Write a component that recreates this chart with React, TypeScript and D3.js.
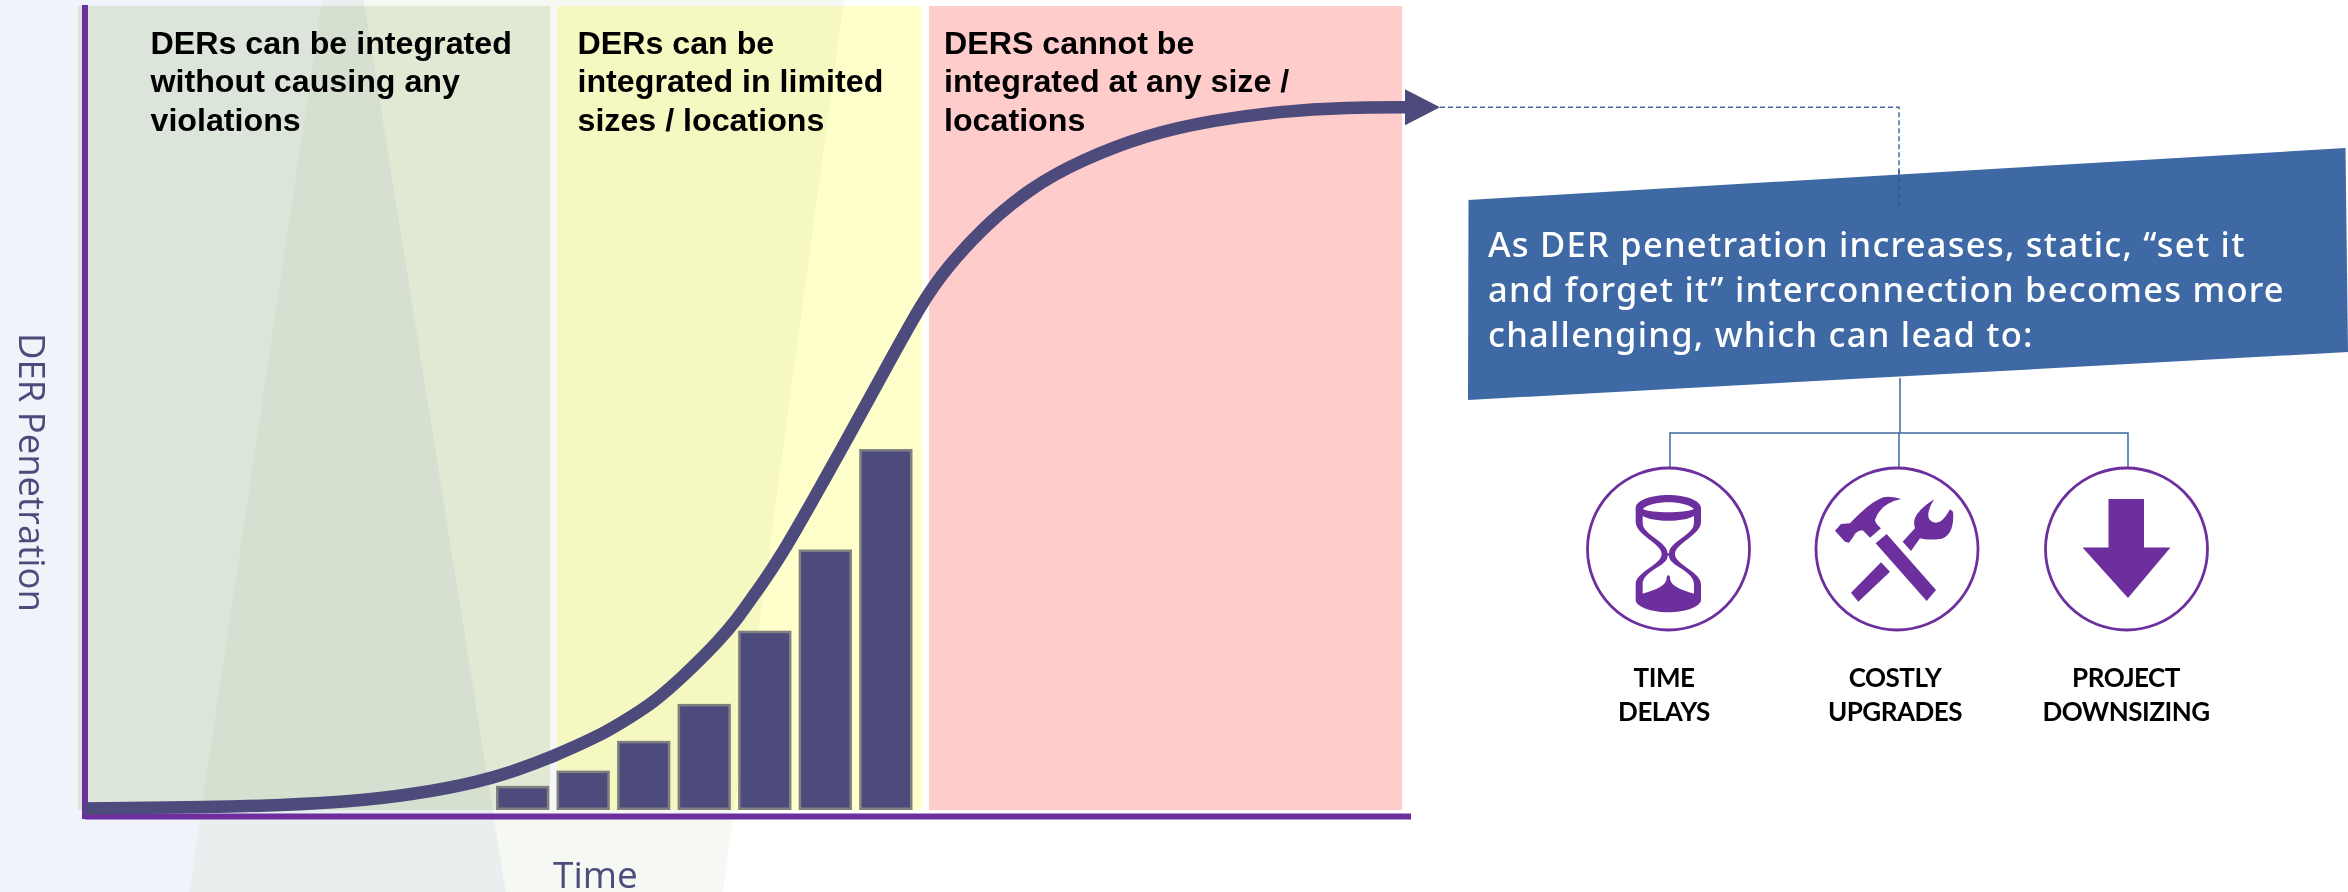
import { FC } from "react";
import * as d3 from "d3";

const width = 2348;
const height = 892;

// curve: time (0-100) against DER penetration (0-100)
const curveTime = [
  0, 9.7, 14.8, 19.8, 24.8, 29.9, 32.9, 35.2, 39, 40.5, 43, 45.5, 48, 49.4,
  50.5, 52.6, 56.2, 57.6, 60.1, 63.5, 65.2, 67.7, 71.5, 75.3, 80.3, 85.3, 90.4,
  95.5, 100,
];
const curvePenetration = [
  0.2, 0.35, 0.6, 1.0, 1.9, 3.5, 5.1, 6.5, 9.3, 10.8, 13.3, 17, 21.1, 23.9,
  26.5, 31.3, 41.9, 46, 53.5, 63.7, 67.4, 72.1, 77.4, 80.8, 84, 85.8, 86.9,
  87.4, 87.4,
];

const barSteps = ["1", "2", "3", "4", "5", "6", "7"];
const barValues = [3.0, 4.9, 8.6, 13.2, 22.3, 32.4, 44.9];

const zoneLabels = [
  ["DERs can be integrated", "without causing any", "violations"],
  ["DERs can be", "integrated in limited", "sizes / locations"],
  ["DERS cannot be", "integrated at any size /", "locations"],
];
const zoneColors = ["#eaf0df", "#ffffcc", "#ffcccc"];

const calloutLines = [
  "As DER penetration increases, static, “set it",
  "and forget it” interconnection becomes more",
  "challenging, which can lead to:",
];

const impactLabels = [
  ["TIME", "DELAYS"],
  ["COSTLY", "UPGRADES"],
  ["PROJECT", "DOWNSIZING"],
];

const PURPLE = "#6d2f9e";
const NAVY = "#4d4a7c";
const BLUE = "#3f69a4";

// icons traced at 3x, so they get scaled back down where they are used
const hourglass =
  "M47 70 C47 45 95 30 145 30 C195 30 243 45 243 70 L243 110 C243 150 165 175 165 207 C165 240 243 260 243 298 L243 345 C243 365 195 382 145 382 C95 382 47 365 47 345 L47 298 C47 260 125 240 125 207 C125 175 47 150 47 110 Z " +
  "M68 72 C95 85 195 85 222 72 C195 45 95 45 68 72 Z " +
  "M68 93 L68 113 C68 150 143 170 143 205 L147 205 C147 170 222 150 222 113 L222 93 C190 112 100 112 68 93 Z " +
  "M147 212 C147 245 222 255 222 298 L222 326 C190 315 150 305 150 278 C150 268 140 268 140 278 C140 305 100 315 68 326 L68 298 C68 255 143 245 143 212 Z";

const hammerWrench = [
  "M152 160 L185 132 L333 300 L305 333 Z",
  "M78 308 L168 217 L195 245 L100 335 Z",
  "M233 155 L270 115 C262 90 270 65 328 28 C310 55 305 80 315 90 C335 108 355 95 375 58 L384 65 C388 110 375 145 340 148 C315 150 295 148 285 145 L258 183 Z",
  "M30 122 L48 102 L75 100 C95 80 130 40 175 22 C190 18 215 22 228 28 C185 35 160 60 150 90 C152 100 160 108 168 115 L135 143 L115 122 C105 120 92 125 85 140 L72 158 L60 155 Z",
];

const App: FC = () => {
  const xScale = d3.scaleLinear().domain([0, 100]).range([85, 1407]);
  const yScale = d3.scaleLinear().domain([0, 100]).range([810, 6]);
  const barScale = d3
    .scaleBand()
    .domain(barSteps)
    .range([496, 912.5])
    .paddingInner(0.12);

  const curvePoints = curveTime.map(
    (t, i) => [xScale(t), yScale(curvePenetration[i])] as [number, number],
  );
  const curvePath = d3.line().curve(d3.curveBasis)(curvePoints)!;

  const zoneEdges = [
    [78, 550],
    [557, 922],
    [929, 1402],
  ];
  const zoneTextX = [150.5, 577.5, 944];
  const circleX = [1668.5, 1897, 2126.5];
  const labelX = [1664, 1895, 2126];

  const arrowY = yScale(curvePenetration[curvePenetration.length - 1]);

  return (
    <svg
      width={width}
      height={height}
      style={{ position: "absolute", left: 0, top: 0, display: "block" }}
    >
      <rect width={width} height={height} fill="#fff" />

      {/* pale backdrop with the two light beams */}
      <polygon points="0,0 322,0 189,892 0,892" fill="#f0f4fa" />
      <polygon points="322,0 364,0 506,892 189,892" fill="#e9eeee" />
      <polygon points="364,0 844,0 723,892 506,892" fill="#f6f8f3" />

      {zoneEdges.map(([x0, x1], i) => (
        <rect
          key={i}
          x={x0}
          y={yScale(100)}
          width={x1 - x0}
          height={yScale(0) - yScale(100)}
          fill={zoneColors[i]}
          style={{ mixBlendMode: "multiply" }}
        />
      ))}

      {barValues.map((v, i) => (
        <rect
          key={barSteps[i]}
          x={barScale(barSteps[i])! + 1.25}
          y={yScale(v) + 1.25}
          width={barScale.bandwidth() - 2.5}
          height={yScale(0) - yScale(v) - 2.5}
          fill={NAVY}
          stroke="#808080"
          strokeWidth={2.5}
        />
      ))}

      <line x1={85} x2={85} y1={5} y2={819} stroke={PURPLE} strokeWidth={6} />
      <line x1={85} x2={1411} y1={816.5} y2={816.5} stroke={PURPLE} strokeWidth={6} />

      <path d={curvePath} fill="none" stroke={NAVY} strokeWidth={12.5} />
      <polygon
        points={`1405,${arrowY - 18} 1440,${arrowY} 1405,${arrowY + 18}`}
        fill={NAVY}
      />

      {zoneLabels.map((lines, i) => (
        <text
          key={i}
          fontFamily="Liberation Sans"
          fontWeight={700}
          fontSize={32.2}
          fill="#000"
        >
          {lines.map((line, j) => (
            <tspan key={j} x={zoneTextX[i]} y={54 + j * 38.4}>
              {line}
            </tspan>
          ))}
        </text>
      ))}

      <text
        transform="translate(19,333) rotate(90)"
        fontFamily="Open Sans"
        fontSize={36.5}
        fill={NAVY}
      >
        DER Penetration
      </text>
      <text x={553} y={888} fontFamily="Open Sans" fontSize={37} fill={NAVY}>
        Time
      </text>

      {/* leader from the arrow tip into the callout */}
      <path
        d={`M1440 ${arrowY} H1899 V210`}
        fill="none"
        stroke={BLUE}
        strokeWidth={1.5}
        strokeDasharray="5 3"
      />
      <polygon points="1468.5,200 2345.5,148 2348,352 1468,400" fill={BLUE} />
      <path d="M1899 170 V210" stroke="#35598c" strokeWidth={1.5} strokeDasharray="5 3" />

      <text
        fontFamily="Noto Sans"
        fontWeight={500}
        fontSize={34.5}
        letterSpacing={1.25}
        fill="#fff"
      >
        {calloutLines.map((line, i) => (
          <tspan key={i} x={1488} y={256.7 + i * 45}>
            {line}
          </tspan>
        ))}
      </text>

      <path
        d="M1900 378 V433 M1670 467 V433 H2128 V467 M1899 433 V467"
        fill="none"
        stroke={BLUE}
        strokeWidth={1.5}
      />

      {circleX.map((cx, i) => (
        <circle
          key={i}
          cx={cx}
          cy={549}
          r={81}
          fill="#fff"
          stroke={PURPLE}
          strokeWidth={2.8}
        />
      ))}

      <g transform="translate(1620,485) scale(0.3333)">
        <path d={hourglass} fill={PURPLE} fillRule="evenodd" />
      </g>
      <g transform="translate(1825,490) scale(0.3333)">
        {hammerWrench.map((d, i) => (
          <path key={i} d={d} fill={PURPLE} />
        ))}
      </g>
      <polygon
        points="2108.5,499 2144,499 2144,547.5 2170.5,547.5 2128,598 2082.5,547.5 2108.5,547.5"
        fill={PURPLE}
      />

      {impactLabels.map((lines, i) => (
        <text
          key={i}
          textAnchor="middle"
          fontFamily="Lato"
          fontWeight={700}
          fontSize={26}
          letterSpacing={-0.5}
          fill="#000"
        >
          {lines.map((line, j) => (
            <tspan key={j} x={labelX[i]} y={687.3 + j * 33.4}>
              {line}
            </tspan>
          ))}
        </text>
      ))}
    </svg>
  );
};

export default App;
